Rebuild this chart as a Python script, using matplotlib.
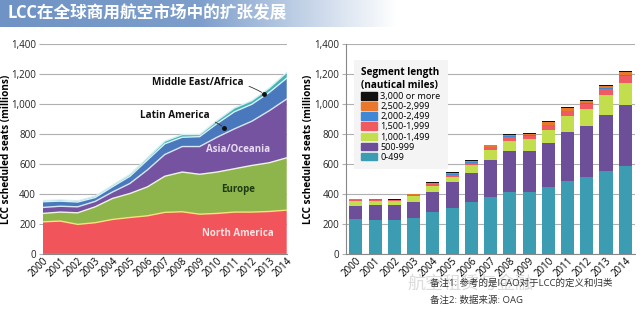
import numpy as np
import matplotlib.pyplot as plt
from matplotlib.patches import Patch
from matplotlib.colors import LinearSegmentedColormap

plt.rcParams['font.family'] = ['Open Sans', 'Noto Sans CJK SC', 'DejaVu Sans']

years = list(range(2000, 2015))
year_labels = [str(y) for y in years]

### Left chart: LCC seats by region (millions)
north_america = [214, 219, 197, 208, 230, 243, 254, 277, 281, 265, 270, 279, 279, 283, 292]
europe = [56, 60, 77, 106, 140, 160, 193, 241, 265, 266, 276, 289, 311, 325, 349]
asia_oceania = [40, 39, 40, 36, 43, 67, 113, 145, 170, 185, 232, 266, 295, 347, 392]
latin_america = [38, 34, 32, 26, 35, 48, 66, 71, 62, 66, 91, 114, 113, 122, 139]
middle_east_africa = [8, 8, 8, 9, 10, 12, 14, 18, 18, 14, 20, 25, 24, 29, 38]

region_colors = ['#f2545c', '#8db54c', '#7553a1', '#4a78bd', '#45b2b6']
edge_colors = ['#f5e27a', '#eef2e6', '#d8e6f6', '#d5f0f2', '#d5f0f2']

### Right chart: seats by segment length
seg_labels = ['0-499', '500-999', '1,000-1,499', '1,500-1,999',
              '2,000-2,499', '2,500-2,999', '3,000 or more']
seg_0_499 = [233, 226, 225, 238, 280, 304, 345, 380, 411, 411, 443, 484, 512, 551, 584]
seg_500_999 = [85, 99, 100, 108, 130, 176, 195, 248, 272, 275, 298, 328, 339, 378, 411]
seg_1000_1499 = [36, 31, 27, 39, 43, 35, 53, 62, 73, 77, 88, 108, 116, 131, 144]
seg_1500_1999 = [6, 6, 5, 7, 12, 14, 16, 20, 24, 24, 30, 32, 34, 40, 48]
seg_2000_2499 = [1, 1, 1, 1, 2, 2, 2, 3, 3, 3, 4, 4, 4, 5, 5]
seg_2500_2999 = [3, 4, 3, 5, 8, 9, 10, 12, 12, 12, 17, 15, 15, 15, 18]
seg_3000_plus = [2, 2, 2, 2, 3, 3, 3, 4, 5, 5, 6, 6, 7, 8, 10]
seg_colors = ['#3c9db2', '#6c4f98', '#c2de4c', '#ef5b60', '#3f88d6', '#e9782d', '#111111']

fig = plt.figure(figsize=(6.4, 3.21), dpi=100)

# header band
hdr = fig.add_axes([0, 0.915, 0.62, 0.085])
grad = np.linspace(0, 1, 256).reshape(1, -1)
hdr.imshow(grad, aspect='auto', extent=[0, 1, 0, 1],
           cmap=LinearSegmentedColormap.from_list('hdr', ['#6f93c4', '#7d9ecb', '#ffffff']))
hdr.axis('off')
fig.text(0.012, 0.958, 'LCC在全球商用航空市场中的扩张发展', color='white', fontsize=12,
         fontweight='bold', va='center', ha='left')

tick_font = 7
text_col = '#222222'

def style_axis(ax, label_x):
    ax.set_ylim(0, 1400)
    ax.set_yticks(range(0, 1401, 200))
    ax.set_yticklabels(['{:,}'.format(v) for v in range(0, 1401, 200)], fontsize=tick_font, color=text_col)
    ax.grid(axis='y', color='#b0b0b0', linewidth=0.8)
    ax.set_axisbelow(True)
    for s in ['top', 'right']:
        ax.spines[s].set_visible(False)
    ax.spines['bottom'].set_color('#888888')
    ax.spines['left'].set_color('#888888')
    ax.tick_params(axis='y', length=3, color='#b0b0b0', pad=2)
    ax.tick_params(axis='x', length=0, pad=1)
    ax.set_ylabel('LCC scheduled seats (millions)', fontsize=7.2, fontweight='bold')
    ax.yaxis.set_label_coords(label_x, 0.5)

### Left: stacked area
ax1 = fig.add_axes([0.067, 0.209, 0.381, 0.654])
layers = np.vstack([north_america, europe, asia_oceania, latin_america, middle_east_africa])
ax1.stackplot(years, layers, colors=region_colors, linewidth=0)
tops = np.cumsum(layers, axis=0)
for i in range(len(tops)):
    ax1.plot(years, tops[i], color=edge_colors[i], linewidth=1.0)
ax1.set_xlim(2000, 2014)
ax1.set_xticks(years)
ax1.set_xticklabels(year_labels, rotation=45, fontsize=tick_font, ha='right', rotation_mode='anchor')
style_axis(ax1, -0.125)
ax1.spines['left'].set_visible(False)

ax1.text(2011.2, 139, 'North America', color='#fde2e2', fontsize=7.0, fontweight='bold', ha='center', va='center')
ax1.text(2011.2, 428, 'Europe', color='#1f3a12', fontsize=7.0, fontweight='bold', ha='center', va='center')
ax1.text(2011.2, 693, 'Asia/Oceania', color='#e8dcf3', fontsize=7.0, fontweight='bold', ha='center', va='center')
ax1.annotate('Latin America', xy=(2010.4, 843), xytext=(2007.6, 922), fontsize=7.2,
             fontweight='bold', ha='center', va='center', color='#111111',
             arrowprops=dict(arrowstyle='-', color='#333333', lw=0.6, connectionstyle='arc3,rad=-0.2'))
ax1.plot(2010.4, 843, 'o', color='#111111', markersize=2.5)
ax1.annotate('Middle East/Africa', xy=(2012.7, 1068), xytext=(2008.9, 1141), fontsize=7.2,
             fontweight='bold', ha='center', va='center', color='#111111',
             arrowprops=dict(arrowstyle='-', color='#333333', lw=0.6, connectionstyle='arc3,rad=-0.2'))
ax1.plot(2012.7, 1068, 'o', color='#111111', markersize=2.5)

### Right: stacked bars
ax2 = fig.add_axes([0.541, 0.209, 0.451, 0.654])
segs = [seg_0_499, seg_500_999, seg_1000_1499, seg_1500_1999, seg_2000_2499, seg_2500_2999, seg_3000_plus]
x = np.arange(len(years))
bottom = np.zeros(len(years))
handles = []
for vals, col, lab in zip(segs, seg_colors, seg_labels):
    ax2.bar(x, vals, bottom=bottom, color=col, width=0.68, linewidth=0)
    bottom += np.array(vals)
    handles.append(Patch(color=col, label=lab))
ax2.set_xlim(-0.5, 14.5)
ax2.set_xticks(x)
ax2.set_xticklabels(year_labels, rotation=45, fontsize=tick_font, ha='right', rotation_mode='anchor')
style_axis(ax2, -0.112)

leg = ax2.legend(handles=handles[::-1], loc='upper left', bbox_to_anchor=(0.01, 0.945),
                 title='Segment length\n(nautical miles)', fontsize=6.6, title_fontsize=7.2,
                 frameon=True, framealpha=1, facecolor='#f4f4f4', edgecolor='none',
                 handlelength=1.7, handleheight=0.9, handletextpad=0.4, labelspacing=0.12,
                 borderpad=0.8, alignment='left')
leg.get_title().set_fontweight('bold')
leg.get_frame().set_boxstyle('square', pad=0)

# notes and watermark
fig.text(0.735, 0.115, '航空租赁与金融', color='#dcdcdc', fontsize=13, ha='center', va='center')
fig.text(0.672, 0.118, '备注1: 参考的是ICAO对于LCC的定义和归类', color='#333333', fontsize=6.8, va='center')
fig.text(0.672, 0.065, '备注2: 数据来源: OAG', color='#333333', fontsize=6.8, va='center')

fig.savefig('out.png', dpi=100)
